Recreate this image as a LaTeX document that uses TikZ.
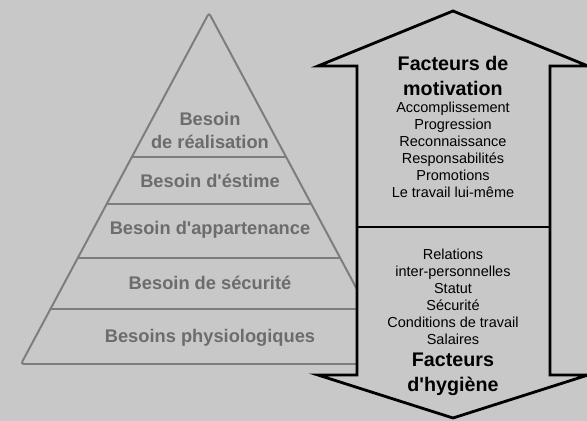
\documentclass[tikz,border=0pt]{standalone}
\usepackage{fontspec}
\setmainfont{Liberation Sans}[Ligatures=TeXOff]
\usetikzlibrary{calc, positioning}
\definecolor{herzbg}{RGB}{200,200,200}
\definecolor{pyrline}{RGB}{125,125,125}
\definecolor{pyrtext}{RGB}{108,108,108}

\begin{document}
\begin{tikzpicture}[x=0.025cm, y=-0.025cm,
        layer/.style={font=\fontsize{13}{16.4}\selectfont\bfseries, text=pyrtext,
                      align=center, inner sep=0pt},
        facttitle/.style={font=\fontsize{14}{17.8}\selectfont\bfseries, align=center,
                      inner sep=0pt},
        factlist/.style={font=\fontsize{10.3}{12.1}\selectfont, align=center,
                      inner sep=0pt},
        arrowline/.style={draw=black, line width=2pt, fill=herzbg, line join=miter}
      ]
        \fill[herzbg] (0,0) rectangle (587,421);
        \useasboundingbox (0,0) rectangle (587,421);

        % pyramid
        \coordinate (apex) at (209,13);
        \coordinate (bl) at (21,364);
        \coordinate (br) at (397,364);
        \draw[pyrline, line width=1.4pt, rounded corners=2pt]
          (apex) -- (bl) -- (br) -- cycle;
        \foreach \t in {0.410, 0.544, 0.698, 0.843}
          \draw[pyrline, line width=1.4pt] ($(apex)!\t!(bl)$) -- ($(apex)!\t!(br)$);

        \node[layer] (real) at (210,130) {Besoin\\de réalisation};
        \node[layer] (estime) at (210,181) {Besoin d'éstime};
        \node[layer] (appart) at (210,230) {Besoin d'appartenance};
        \node[layer] (secu) at (210,283) {Besoin de sécurité};
        \node[layer] (physio) at (210,338) {Besoins physiologiques};

        % double arrow
        \coordinate (top) at (453,11);
        \coordinate (bot) at (453,418);
        \draw[arrowline] (top) -- (588,66) -- (550,66) -- (550,375) -- (588,375)
          -- (bot) -- (318,375) -- (357,375) -- (357,66) -- (318,66) -- cycle;
        \coordinate (divl) at (357,227);
        \coordinate (divr) at (550,227);
        \draw[line width=2pt] (divl) -- (divr);

        \node[facttitle] (motiv) at (453,76) {Facteurs de\\motivation};
        \node[factlist] (motivlist) at (453,150) {Accomplissement\\Progression\\
          Reconnaissance\\Responsabilités\\Promotions\\Le travail lui-même};
        \node[factlist] (hyglist) at (453,297) {Relations\\inter-personnelles\\
          Statut\\Sécurité\\Conditions de travail\\Salaires};
        \node[facttitle] (hyg) at (453,374) {Facteurs\\d'hygiène};
      \end{tikzpicture}
\end{document}
